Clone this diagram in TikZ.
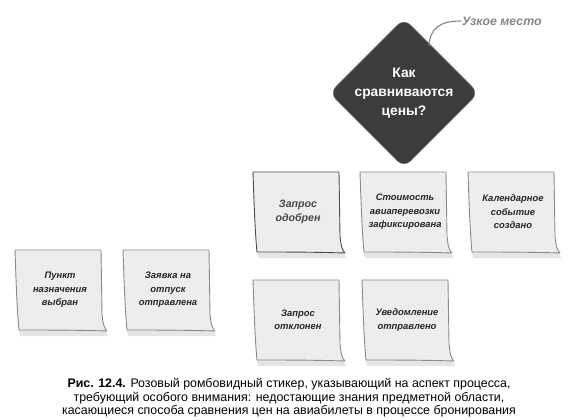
\documentclass[tikz,border=0pt]{standalone}
\usepackage{fontspec}
\setmainfont{Liberation Sans}
\usetikzlibrary{shapes.geometric}
\definecolor{stickyfill}{HTML}{EDEDED}
\definecolor{stickyedge}{HTML}{8A8A8A}
\definecolor{diamondfill}{HTML}{3C3C3C}
\definecolor{notegray}{HTML}{858585}
\tikzset{
  stickytext/.style={align=center, font=\fontsize{9.4}{13.5}\selectfont\bfseries\itshape, text=black!85, inner sep=0pt},
  stickyshape/.style={fill=stickyfill, draw=stickyedge, line width=0.9pt, line join=round},
  stickyshadow/.style={fill=black!10, draw=none},
  bottleneck/.style={diamond, fill=diamondfill, draw=black!60, line width=0.6pt, rounded corners=9pt,
     minimum width=118pt, minimum height=120pt, inner sep=0pt, align=center, text=white,
     font=\fontsize{13.8}{19}\selectfont\bfseries},
  notelabel/.style={font=\fontsize{12.3}{14}\selectfont\bfseries\itshape, text=notegray, inner sep=1pt, anchor=west},
  noteline/.style={draw=notegray, line width=1.1pt},
  caption/.style={align=center, font=\fontsize{12.4}{13.5}\selectfont, inner sep=0pt}
}
% \mysticky[edge colour]{name}{x,y}{text}{extra text style}
\newcommand\mysticky[5][stickyedge]{%
  \begin{scope}[shift={(#3)}]
    \path[stickyshadow] (3,76) -- (90,78) -- (93,86) -- (5,86) -- cycle;
    \path[stickyshape, draw=#1] (0,0) -- (86,0) -- (87,64)
       .. controls (88,74) and (89,78) .. (92,81)
       .. controls (60,80) and (30,80) .. (4,80)
       .. controls (2,60) and (1,30) .. (0,0) -- cycle;
    \node[stickytext, #5] (#2) at (45,40) {#4};
  \end{scope}}
\begin{document}
\begin{tikzpicture}[x=1pt,y=-1pt]
\useasboundingbox (0,0) rectangle (578,420);

% bottleneck diamond
\node[bottleneck] (q) at (404,93) {Как\\сравниваются\\цены?};
\node[notelabel] (note) at (461,21) {Узкое место};
\draw[noteline] (note.west) .. controls (440,21) and (430,28) .. (429,46);

% stickies
\mysticky[black!70]{s1}{253,172}{Запрос\\одобрен}{text=black!72, font=\fontsize{10.6}{14.5}\selectfont\bfseries\itshape}
\mysticky{s2}{360,172}{Стоимость\\авиаперевозки\\зафиксирована}{}
\mysticky{s3}{468,172}{Календарное\\событие\\создано}{}
\mysticky{s4}{15,250}{Пункт\\назначения\\выбран}{}
\mysticky{s5}{123,250}{Заявка на\\отпуск\\отправлена}{}
\mysticky{s6}{253,280}{Запрос\\отклонен}{}
\mysticky{s7}{362,280}{Уведомление\\отправлено}{}

% caption
\node[caption] (cap) at (289,398) {\textbf{Рис. 12.4.} Розовый ромбовидный стикер, указывающий на аспект процесса,\\
требующий особого внимания: недостающие знания предметной области,\\
касающиеся способа сравнения цен на авиабилеты в процессе бронирования};
\end{tikzpicture}
\end{document}
